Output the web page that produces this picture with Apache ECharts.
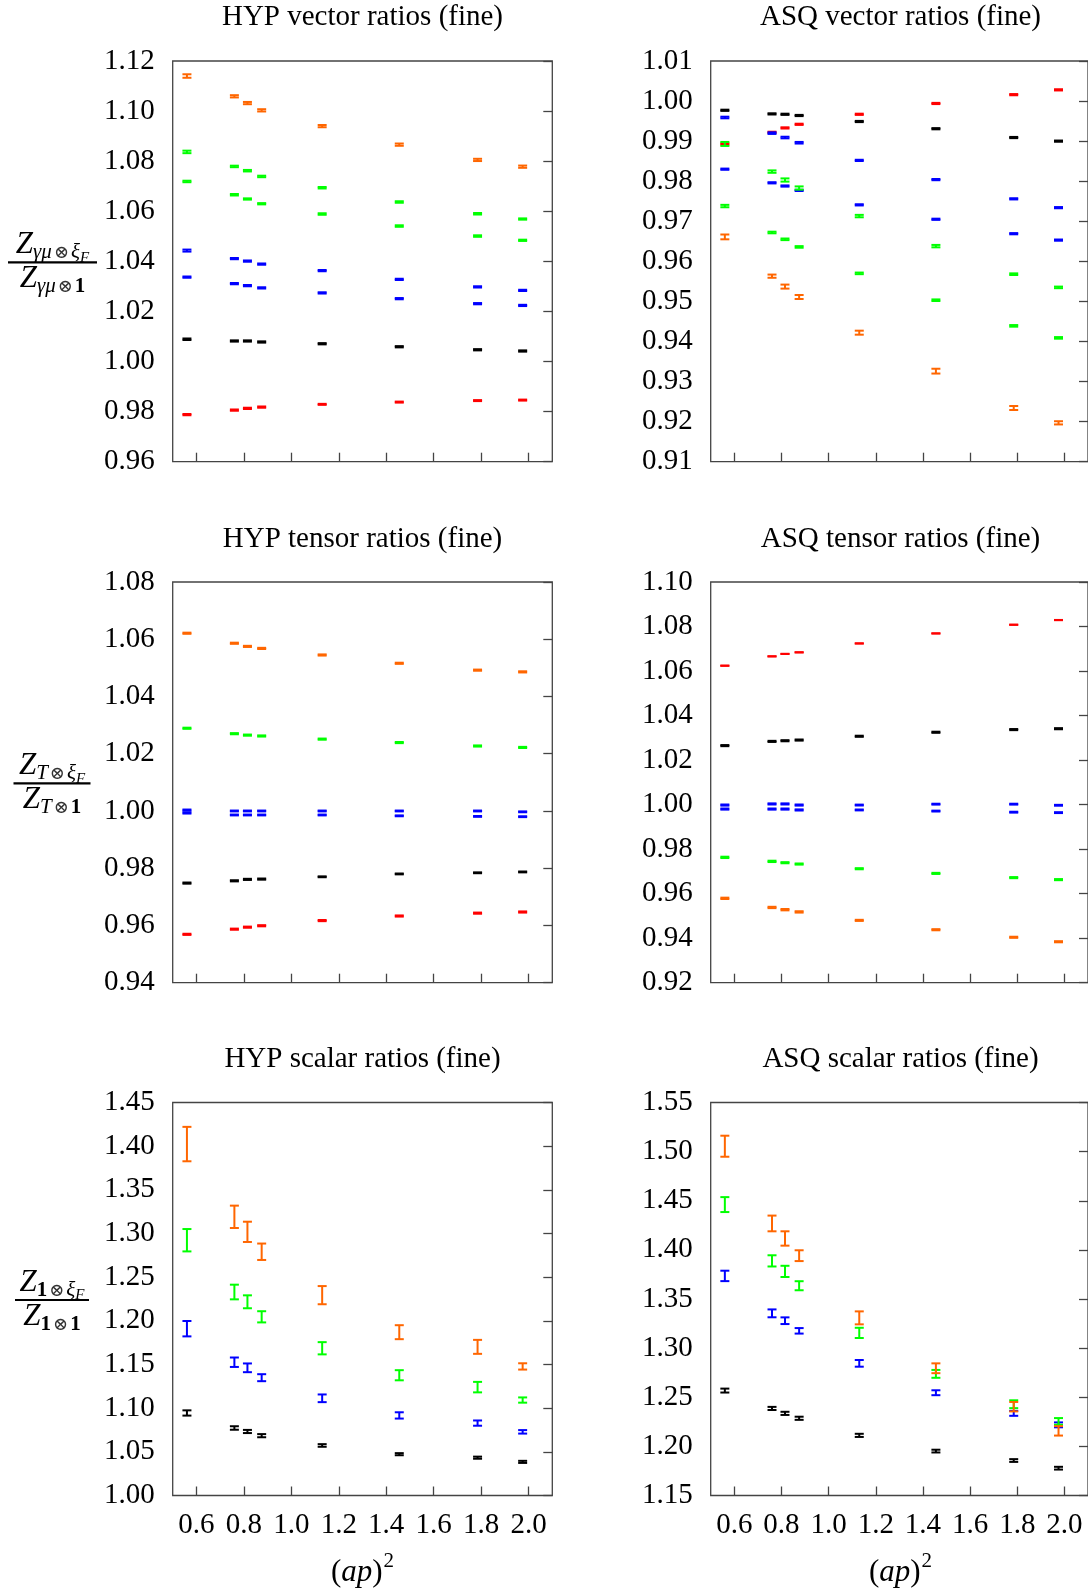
<!DOCTYPE html>
<html><head><meta charset="utf-8">
<script src="https://cdn.jsdelivr.net/npm/echarts@6/dist/echarts.min.js"></script>
<style>html,body{margin:0;padding:0;background:#fff}#c{width:1088px;height:1589px}</style>
</head><body><div id="c"></div>
<script>
// ---------- data ----------
const xVals = [0.56, 0.76, 0.815, 0.875, 1.13, 1.455, 1.785, 1.975];
const xTicks = [0.6, 0.8, 1.0, 1.2, 1.4, 1.6, 1.8, 2.0];
const X_MIN = 0.5, X_MAX = 2.1;

const yTicksHypVec = [0.96, 0.98, 1.00, 1.02, 1.04, 1.06, 1.08, 1.10, 1.12];
const yTicksAsqVec = [0.91, 0.92, 0.93, 0.94, 0.95, 0.96, 0.97, 0.98, 0.99, 1.00, 1.01];
const yTicksHypTen = [0.94, 0.96, 0.98, 1.00, 1.02, 1.04, 1.06, 1.08];
const yTicksAsqTen = [0.92, 0.94, 0.96, 0.98, 1.00, 1.02, 1.04, 1.06, 1.08, 1.10];
const yTicksHypSca = [1.00, 1.05, 1.10, 1.15, 1.20, 1.25, 1.30, 1.35, 1.40, 1.45];
const yTicksAsqSca = [1.15, 1.20, 1.25, 1.30, 1.35, 1.40, 1.45, 1.50, 1.55];

// HYP vector
const hypVecOrange = [1.1140, 1.1059, 1.1032, 1.1003, 1.0940, 1.0866, 1.0805, 1.0778];
const hypVecOrangeErr = [0.0007, 0.00045, 0.00045, 0.00045, 0.00045, 0.00045, 0.00045, 0.00045];
const hypVecGreenA = [1.0837, 1.0779, 1.0762, 1.0739, 1.0694, 1.0637, 1.0590, 1.0569];
const hypVecGreenAErr = [0.0005, 0.0003, 0.0003, 0.0003, 0.0003, 0.0003, 0.0003, 0.00025];
const hypVecGreenB = [1.0719, 1.0666, 1.0649, 1.0630, 1.0589, 1.0541, 1.0501, 1.0484];
const hypVecGreenBErr = [0.0003, 0.0003, 0.00025, 0.00025, 0.0003, 0.0003, 0.0003, 0.00025];
const hypVecBlueA = [1.0443, 1.0411, 1.0401, 1.0389, 1.0363, 1.0328, 1.0298, 1.0284];
const hypVecBlueAErr = [0.0004, 0.00025, 0.00025, 0.00025, 0.00025, 0.00025, 0.00025, 0.00025];
const hypVecBlueB = [1.0337, 1.0311, 1.0303, 1.0294, 1.0274, 1.0251, 1.0231, 1.0224];
const hypVecBlueBErr = [0.00025, 0.00025, 0.00025, 0.00025, 0.00025, 0.00025, 0.00025, 0.00025];
const hypVecBlack = [1.0089, 1.0082, 1.0082, 1.0078, 1.0071, 1.0059, 1.0047, 1.0042];
const hypVecBlackErr = [0.0003, 0.00025, 0.00025, 0.00025, 0.00025, 0.00025, 0.00025, 0.00025];
const hypVecRed = [0.9788, 0.9806, 0.9813, 0.9818, 0.9829, 0.9838, 0.9844, 0.9846];
const hypVecRedErr = [0.00025, 0.00025, 0.00025, 0.00025, 0.0002, 0.0002, 0.0002, 0.0002];

// ASQ vector
const asqVecOrange = [0.9661, 0.9563, 0.9537, 0.9511, 0.9422, 0.9326, 0.9234, 0.9197];
const asqVecOrangeErr = [0.0006, 0.0004, 0.0005, 0.0005, 0.0005, 0.0006, 0.0005, 0.0004];
const asqVecGreenA = [0.9893, 0.9824, 0.9803, 0.9783, 0.9713, 0.9638, 0.9568, 0.9535];
const asqVecGreenAErr = [0.0005, 0.0003, 0.0004, 0.0004, 0.0003, 0.0003, 0.0002, 0.0002];
const asqVecGreenB = [0.9738, 0.9672, 0.9655, 0.9636, 0.9570, 0.9503, 0.9439, 0.9409];
const asqVecGreenBErr = [0.0003, 0.0002, 0.0002, 0.0002, 0.0002, 0.0002, 0.0002, 0.0002];
const asqVecBlueA = [0.9959, 0.9920, 0.9909, 0.9896, 0.9852, 0.9804, 0.9756, 0.9734];
const asqVecBlueAErr = [0.0002, 0.0002, 0.0002, 0.0002, 0.00015, 0.00015, 0.00015, 0.00015];
const asqVecBlueB = [0.9830, 0.9796, 0.9788, 0.9777, 0.9741, 0.9705, 0.9669, 0.9653];
const asqVecBlueBErr = [0.00015, 0.00015, 0.00015, 0.00015, 0.00015, 0.00015, 0.00015, 0.00015];
const asqVecBlack = [0.9977, 0.9968, 0.9967, 0.9964, 0.9949, 0.9931, 0.9909, 0.9900];
const asqVecBlackErr = [0.00015, 0.00015, 0.00015, 0.00015, 0.00015, 0.00015, 0.00015, 0.00015];
const asqVecRed = [0.9893, 0.9922, 0.9933, 0.9942, 0.9967, 0.9994, 1.0016, 1.0028];
const asqVecRedErr = [0.00015, 0.00015, 0.00015, 0.00015, 0.00015, 0.00015, 0.00015, 0.00015];

// HYP tensor
const hypTenOrange = [1.0621, 1.0586, 1.0575, 1.0568, 1.0545, 1.0516, 1.0492, 1.0486];
const hypTenOrangeErr = [0.0002, 0.0002, 0.0002, 0.0002, 0.0002, 0.0002, 0.0002, 0.0002];
const hypTenGreen = [1.0289, 1.0270, 1.0265, 1.0262, 1.0251, 1.0239, 1.0227, 1.0222];
const hypTenGreenErr = [0.0002, 0.0002, 0.0002, 0.0002, 0.0002, 0.0002, 0.0002, 0.0002];
const hypTenBlueA = [1.0003, 1.0000, 1.0000, 1.0000, 1.0000, 1.0000, 1.0000, 0.9997];
const hypTenBlueAErr = [0.0002, 0.00015, 0.00015, 0.00015, 0.00015, 0.00015, 0.00015, 0.00015];
const hypTenBlueB = [0.9993, 0.9986, 0.9986, 0.9986, 0.9986, 0.9983, 0.9981, 0.9980];
const hypTenBlueBErr = [0.0002, 0.00015, 0.00015, 0.00015, 0.00015, 0.00015, 0.00015, 0.00015];
const hypTenBlack = [0.9748, 0.9756, 0.9761, 0.9762, 0.9770, 0.9780, 0.9784, 0.9787];
const hypTenBlackErr = [0.0002, 0.0002, 0.0002, 0.0002, 0.00015, 0.00015, 0.00015, 0.00015];
const hypTenRed = [0.9569, 0.9587, 0.9594, 0.9599, 0.9617, 0.9633, 0.9643, 0.9647];
const hypTenRedErr = [0.0002, 0.0002, 0.0002, 0.0002, 0.0002, 0.0002, 0.0002, 0.0002];

// ASQ tensor
const asqTenRed = [1.0624, 1.0666, 1.0677, 1.0684, 1.0724, 1.0769, 1.0808, 1.0829];
const asqTenRedErr = [0.00005, 0.00005, 0.00005, 0.00005, 0.00005, 0.00005, 0.00005, 0.00005];
const asqTenBlack = [1.0265, 1.0284, 1.0287, 1.0290, 1.0307, 1.0325, 1.0337, 1.0341];
const asqTenBlackErr = [0.00025, 0.00025, 0.00025, 0.00025, 0.00025, 0.00025, 0.00025, 0.00025];
const asqTenBlueA = [0.9998, 1.0003, 1.0003, 0.9998, 0.9998, 1.0002, 1.0002, 0.9997];
const asqTenBlueAErr = [0.00025, 0.00025, 0.00025, 0.00025, 0.0002, 0.0002, 0.0002, 0.0002];
const asqTenBlueB = [0.9980, 0.9980, 0.9980, 0.9976, 0.9976, 0.9971, 0.9966, 0.9964];
const asqTenBlueBErr = [0.00025, 0.00025, 0.00025, 0.00025, 0.0002, 0.0002, 0.0002, 0.0002];
const asqTenGreen = [0.9763, 0.9745, 0.9739, 0.9733, 0.9712, 0.9691, 0.9672, 0.9663];
const asqTenGreenErr = [0.0003, 0.0003, 0.00025, 0.00025, 0.00025, 0.00025, 0.00025, 0.00025];
const asqTenOrange = [0.9579, 0.9538, 0.9528, 0.9518, 0.9480, 0.9438, 0.9404, 0.9384];
const asqTenOrangeErr = [0.0003, 0.0003, 0.0003, 0.0003, 0.00025, 0.00025, 0.00025, 0.00025];

// HYP scalar
const hypScaOrange = [1.4024, 1.3191, 1.3019, 1.2791, 1.2294, 1.1870, 1.1702, 1.1478];
const hypScaOrangeErr = [0.0197, 0.0128, 0.0116, 0.0094, 0.0104, 0.0080, 0.0080, 0.0036];
const hypScaGreen = [1.2923, 1.2330, 1.2218, 1.2046, 1.1686, 1.1377, 1.1241, 1.1093];
const hypScaGreenErr = [0.0128, 0.0084, 0.0074, 0.0064, 0.0070, 0.0058, 0.0060, 0.0030];
const hypScaBlue = [1.1910, 1.1526, 1.1462, 1.1349, 1.1113, 1.0917, 1.0829, 1.0729];
const hypScaBlueErr = [0.0088, 0.0054, 0.0050, 0.0040, 0.0044, 0.0036, 0.0030, 0.0020];
const hypScaBlack = [1.0945, 1.0773, 1.0733, 1.0685, 1.0573, 1.0473, 1.0433, 1.0385];
const hypScaBlackErr = [0.0030, 0.0020, 0.0018, 0.0018, 0.0015, 0.0012, 0.0012, 0.0012];

// ASQ scalar
const asqScaOrange = [1.5055, 1.4269, 1.4116, 1.3941, 1.3308, 1.2795, 1.2404, 1.2158];
const asqScaOrangeErr = [0.0107, 0.0080, 0.0073, 0.0055, 0.0066, 0.0050, 0.0048, 0.0048];
const asqScaGreen = [1.4461, 1.3888, 1.3781, 1.3635, 1.3155, 1.2738, 1.2429, 1.2254];
const asqScaGreenErr = [0.0076, 0.0057, 0.0057, 0.0046, 0.0052, 0.0040, 0.0040, 0.0034];
const asqScaBlue = [1.3735, 1.3354, 1.3279, 1.3176, 1.2845, 1.2546, 1.2336, 1.2219];
const asqScaBlueErr = [0.0053, 0.0040, 0.0034, 0.0028, 0.0034, 0.0025, 0.0025, 0.0025];
const asqScaBlack = [1.2568, 1.2386, 1.2336, 1.2286, 1.2112, 1.1952, 1.1856, 1.1778];
const asqScaBlackErr = [0.0020, 0.0016, 0.0016, 0.0016, 0.0016, 0.0014, 0.0014, 0.0014];

// ---------- style / layout ----------
const FONT = '"Liberation Serif", "DejaVu Serif", serif';
const ORANGE = '#ff6600', GREEN = '#00ff00', BLUE = '#0000ff', BLACK = '#000000', RED = '#ff0000';
const FRAME = '#444444';
const COL_LEFT = [172.7, 710.7];
const PLOT_W = 379.6;
const ROW_TOP = [61, 582, 1102.5];
const ROW_H = [400.7, 400.7, 393];
const TITLE_Y = [17, 539, 1059];
const CAP = 4.5, LW = 2;
const FS = 29;

const panels = [
  {title: 'HYP vector ratios (fine)', col: 0, row: 0, yTicks: yTicksHypVec, sets: [
    [BLACK, hypVecBlack, hypVecBlackErr], [RED, hypVecRed, hypVecRedErr],
    [BLUE, hypVecBlueA, hypVecBlueAErr], [BLUE, hypVecBlueB, hypVecBlueBErr],
    [GREEN, hypVecGreenA, hypVecGreenAErr], [GREEN, hypVecGreenB, hypVecGreenBErr],
    [ORANGE, hypVecOrange, hypVecOrangeErr]]},
  {title: 'ASQ vector ratios (fine)', col: 1, row: 0, yTicks: yTicksAsqVec, sets: [
    [BLACK, asqVecBlack, asqVecBlackErr], [RED, asqVecRed, asqVecRedErr],
    [BLUE, asqVecBlueA, asqVecBlueAErr], [BLUE, asqVecBlueB, asqVecBlueBErr],
    [GREEN, asqVecGreenA, asqVecGreenAErr], [GREEN, asqVecGreenB, asqVecGreenBErr],
    [ORANGE, asqVecOrange, asqVecOrangeErr]]},
  {title: 'HYP tensor ratios (fine)', col: 0, row: 1, yTicks: yTicksHypTen, sets: [
    [BLACK, hypTenBlack, hypTenBlackErr], [RED, hypTenRed, hypTenRedErr],
    [BLUE, hypTenBlueA, hypTenBlueAErr], [BLUE, hypTenBlueB, hypTenBlueBErr],
    [GREEN, hypTenGreen, hypTenGreenErr], [ORANGE, hypTenOrange, hypTenOrangeErr]]},
  {title: 'ASQ tensor ratios (fine)', col: 1, row: 1, yTicks: yTicksAsqTen, sets: [
    [BLACK, asqTenBlack, asqTenBlackErr], [RED, asqTenRed, asqTenRedErr],
    [BLUE, asqTenBlueA, asqTenBlueAErr], [BLUE, asqTenBlueB, asqTenBlueBErr],
    [GREEN, asqTenGreen, asqTenGreenErr], [ORANGE, asqTenOrange, asqTenOrangeErr]]},
  {title: 'HYP scalar ratios (fine)', col: 0, row: 2, yTicks: yTicksHypSca, sets: [
    [BLACK, hypScaBlack, hypScaBlackErr], [BLUE, hypScaBlue, hypScaBlueErr],
    [GREEN, hypScaGreen, hypScaGreenErr], [ORANGE, hypScaOrange, hypScaOrangeErr]]},
  {title: 'ASQ scalar ratios (fine)', col: 1, row: 2, yTicks: yTicksAsqSca, sets: [
    [BLACK, asqScaBlack, asqScaBlackErr], [BLUE, asqScaBlue, asqScaBlueErr],
    [GREEN, asqScaGreen, asqScaGreenErr], [ORANGE, asqScaOrange, asqScaOrangeErr]]}
];

function makeRender(color) {
  return function (params, api) {
    const x = api.value(0), y = api.value(1), e = api.value(2);
    const p1 = api.coord([x, y + e]), p2 = api.coord([x, y - e]);
    const st = {stroke: color, lineWidth: LW, fill: null};
    return {type: 'group', children: [
      {type: 'line', shape: {x1: p1[0], y1: p1[1], x2: p2[0], y2: p2[1]}, style: st},
      {type: 'line', shape: {x1: p1[0] - CAP, y1: p1[1], x2: p1[0] + CAP, y2: p1[1]}, style: st},
      {type: 'line', shape: {x1: p2[0] - CAP, y1: p2[1], x2: p2[0] + CAP, y2: p2[1]}, style: st}
    ]};
  };
}

const grid = [], xAxis = [], yAxis = [], series = [], graphic = [];
const labelFont = {color: '#000', fontFamily: FONT, fontSize: FS};

panels.forEach((p, i) => {
  const left = COL_LEFT[p.col], top = ROW_TOP[p.row], height = ROW_H[p.row];
  const yMin = p.yTicks[0], yMax = p.yTicks[p.yTicks.length - 1];
  grid.push({left, top, width: PLOT_W, height, show: true, borderColor: FRAME, borderWidth: 1.3,
    backgroundColor: 'transparent'});
  xAxis.push({type: 'value', gridIndex: i, min: X_MIN, max: X_MAX,
    axisLine: {show: false}, splitLine: {show: false},
    axisTick: {show: true, inside: true, length: 9, customValues: xTicks, lineStyle: {color: FRAME, width: 1.3}},
    axisLabel: Object.assign({show: p.row === 2, customValues: xTicks, margin: 15,
      formatter: v => Number(v).toFixed(1)}, labelFont)});
  yAxis.push({type: 'value', gridIndex: i, position: 'left', min: yMin, max: yMax,
    axisLine: {show: false}, axisTick: {show: false}, splitLine: {show: false},
    axisLabel: Object.assign({customValues: p.yTicks, margin: 18,
      formatter: v => Number(v).toFixed(2)}, labelFont)});
  yAxis.push({type: 'value', gridIndex: i, position: 'right', min: yMin, max: yMax,
    axisLine: {show: false}, splitLine: {show: false}, axisLabel: {show: false},
    axisTick: {show: true, inside: true, length: 9, customValues: p.yTicks, lineStyle: {color: FRAME, width: 1.3}}});
  p.sets.forEach(([color, ys, es]) => {
    series.push({type: 'custom', xAxisIndex: i, yAxisIndex: 2 * i, silent: true, clip: false,
      data: xVals.map((x, k) => [x, ys[k], es[k]]), renderItem: makeRender(color)});
  });
  const cx = left + PLOT_W / 2;
  graphic.push({type: 'text', x: cx, y: TITLE_Y[p.row], silent: true,
    style: {text: p.title, fill: '#000', font: FS + 'px ' + FONT, fontSize: FS, fontFamily: FONT,
      textAlign: 'center', align: 'center', textVerticalAlign: 'middle', verticalAlign: 'middle'}});
  if (p.row === 2) {
    graphic.push({type: 'text', x: cx, y: 1551, silent: true,
      style: {text: '{p|(}{i|ap}{p|)}{s|2}', fill: '#000', align: 'center', textAlign: 'center',
        verticalAlign: 'top', textVerticalAlign: 'top',
        rich: {
          p: {fontFamily: FONT, fontSize: 31, lineHeight: 32, padding: [6, 0, 0, 0], verticalAlign: 'top', fill: '#000'},
          i: {fontFamily: FONT, fontSize: 31, fontStyle: 'italic', lineHeight: 32, padding: [6, 0, 0, 0], verticalAlign: 'top', fill: '#000'},
          s: {fontFamily: FONT, fontSize: 21, lineHeight: 21, padding: [0, 0, 0, 1], verticalAlign: 'top', fill: '#000'}
        }}});
  }
});

// y-axis fraction names
const fracRich = {
  Z: {fontFamily: FONT, fontSize: 31, fontStyle: 'italic', lineHeight: 32, verticalAlign: 'top', fill: '#000'},
  si: {fontFamily: FONT, fontSize: 21, fontStyle: 'italic', lineHeight: 21, padding: [13, 0, 0, 0], verticalAlign: 'top', fill: '#000'},
  sb: {fontFamily: FONT, fontSize: 21, fontWeight: 'bold', lineHeight: 21, padding: [13, 0, 0, 0], verticalAlign: 'top', fill: '#000'},
  so: {fontFamily: '"DejaVu Serif", serif', fontSize: 18, lineHeight: 18, padding: [15, 2, 0, 2], verticalAlign: 'top', fill: '#333'},
  ss: {fontFamily: FONT, fontSize: 15, fontStyle: 'italic', lineHeight: 15, padding: [21, 0, 0, 0], verticalAlign: 'top', fill: '#000'}
};
const fracs = [
  {num: '{Z|Z}{si|γμ}{so|⊗}{si|ξ}{ss|F}', den: '{Z|Z}{si|γμ}{so|⊗}{sb|1}', w: 89, cx: 52.5},
  {num: '{Z|Z}{si|T}{so|⊗}{si|ξ}{ss|F}', den: '{Z|Z}{si|T}{so|⊗}{sb|1}', w: 77, cx: 52},
  {num: '{Z|Z}{sb|1}{so|⊗}{si|ξ}{ss|F}', den: '{Z|Z}{sb|1}{so|⊗}{sb|1}', w: 74, cx: 52}
];
fracs.forEach((f, r) => {
  const barY = ROW_TOP[r] + ROW_H[r] / 2 + 1;
  graphic.push({type: 'rect', silent: true, shape: {x: f.cx - f.w / 2, y: barY - 1.1, width: f.w, height: 2.2}, style: {fill: '#000'}});
  graphic.push({type: 'text', x: f.cx, y: barY - 33, silent: true,
    style: {text: f.num, rich: fracRich, align: 'center', textAlign: 'center', verticalAlign: 'top', textVerticalAlign: 'top'}});
  graphic.push({type: 'text', x: f.cx, y: barY + 1, silent: true,
    style: {text: f.den, rich: fracRich, align: 'center', textAlign: 'center', verticalAlign: 'top', textVerticalAlign: 'top'}});
});

const chart = echarts.init(document.getElementById('c'), null, {renderer: 'canvas'});
chart.setOption({
  backgroundColor: '#ffffff',
  animation: false,
  grid, xAxis, yAxis, series, graphic
});
</script></body></html>
